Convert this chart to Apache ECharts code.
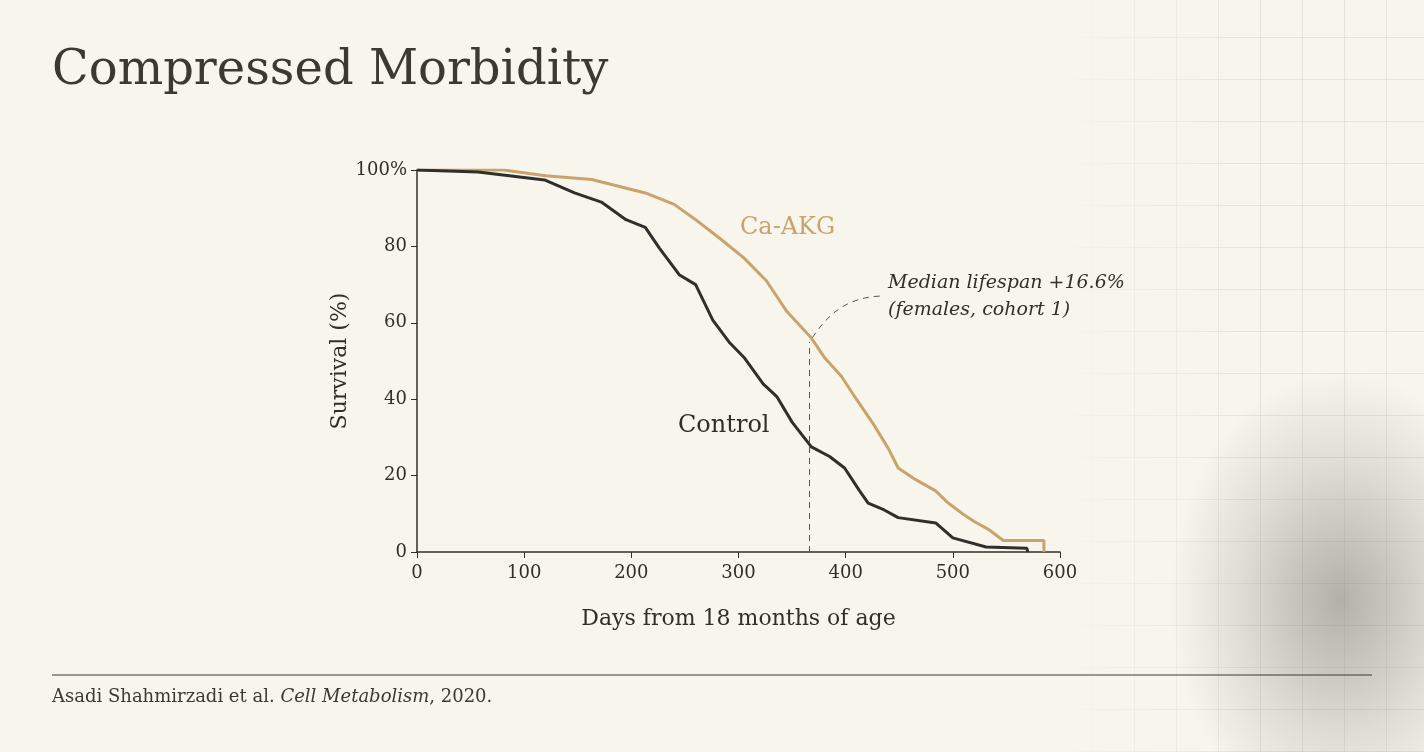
<!DOCTYPE html>
<html><head><meta charset="utf-8">
<script src="https://cdn.jsdelivr.net/npm/echarts@6/dist/echarts.min.js"></script>
<style>
html,body{margin:0;padding:0;background:#f8f5ec;}
#bg{position:absolute;left:0;top:0;width:1424px;height:752px;
background:
 radial-gradient(ellipse 170px 230px at 1340px 600px, rgba(120,120,115,0.55), rgba(150,150,145,0.25) 60%, rgba(248,245,236,0) 100%),
 linear-gradient(90deg, rgba(248,245,236,1) 0, rgba(248,245,236,1) 1050px, rgba(248,245,236,0) 1250px),
 repeating-linear-gradient(0deg, rgba(200,195,185,0.35) 0 1px, transparent 1px 42px),
 repeating-linear-gradient(90deg, rgba(200,195,185,0.35) 0 1px, transparent 1px 42px), #f8f5ec;}
#c{position:absolute;left:0;top:0;width:1424px;height:752px;}
</style></head><body>
<div id="bg"></div><div id="c"></div>
<script>
const controlDays = [0,57,119,147,172,195,213,226,245,260,276,292,305,323,336,350,368,385,399,413,421,436,449,484,500,531,569,570];
const controlSurv = [100,99.5,97.4,94,91.6,87,85,79.6,72.5,70,60.7,54.7,51,44,40.6,34,27.5,25,22,16,12.8,11,9,7.6,3.7,1.3,1,0];
const akgDays = [0,81,120,163,213,240,260,283,305,326,345,368,380,396,410,427,440,449,465,484,495,509,520,534,547,585,585];
const akgSurv = [100,100,98.5,97.5,94,91,87,82,77,71,63,56,51,46,40,33,27,22,19,16,13,10,8,5.8,3,3,0];
const xTicks = [0,100,200,300,400,500,600];
const yTicks = [0,20,40,60,80,100];
const medianDay = 366, medianSurv = 55;

const serif = '"DejaVu Serif", "Liberation Serif", serif';
const dark = '#2f2f2b', gold = '#c8a46c';
const chart = echarts.init(document.getElementById('c'));
const pairs = (a,b)=>a.map((d,i)=>[d,b[i]]);
const opt = {
  animation:false,
  grid:{left:417,right:364,top:170,bottom:200},
  xAxis:{type:'value',min:0,max:600,interval:100,
    axisLine:{show:true,lineStyle:{color:dark,width:1.5}},
    axisTick:{show:true,length:6,lineStyle:{color:dark}},
    splitLine:{show:false},
    axisLabel:{fontFamily:serif,fontSize:18,color:dark,margin:12},
    name:'Days from 18 months of age',nameLocation:'middle',nameGap:56,
    nameTextStyle:{fontFamily:serif,fontSize:22,color:dark}},
  yAxis:{type:'value',min:0,max:100,interval:20,
    axisLine:{show:true,lineStyle:{color:dark,width:1.5}},
    axisTick:{show:true,length:6,lineStyle:{color:dark}},
    splitLine:{show:false},
    axisLabel:{fontFamily:serif,fontSize:18,color:dark,margin:10,formatter:v=>v===100?'100%':v},
    name:'Survival (%)',nameLocation:'middle',nameGap:66,nameRotate:90,
    nameTextStyle:{fontFamily:serif,fontSize:22,color:dark}},
  series:[
    {type:'line',data:pairs(akgDays,akgSurv),showSymbol:false,
     lineStyle:{color:gold,width:3}},
    {type:'line',data:pairs(controlDays,controlSurv),showSymbol:false,
     lineStyle:{color:dark,width:3},
     markLine:{silent:true,symbol:'none',label:{show:false},lineStyle:{color:'#555',type:[6,5],width:1},
       data:[[{coord:[medianDay,0]},{coord:[medianDay,medianSurv]}]]}}
  ]
};
chart.setOption(opt);
const p = chart.convertToPixel({gridIndex:0},[medianDay,medianSurv]);
chart.setOption({graphic:[
  {type:'text',left:52,top:48,style:{text:'Compressed Morbidity',font:'48px '+serif,fill:'#3a3a33'}},
  {type:'text',x:740,y:216,style:{text:'Ca-AKG',font:'24px '+serif,fill:gold}},
  {type:'text',x:678,y:414,style:{text:'Control',font:'24px '+serif,fill:dark}},
  {type:'text',x:888,y:270,style:{text:'Median lifespan +16.6%\n(females, cohort 1)',font:'italic 19px '+serif,fill:dark,lineHeight:27}},
  {type:'bezierCurve',shape:{x1:p[0]+3,y1:p[1]-4,cpx1:p[0]+20,cpy1:p[1]-30,cpx2:p[0]+40,cpy2:p[1]-45,x2:882,y2:296},
   style:{stroke:'#555',lineWidth:1,lineDash:[6,5],fill:null}},
  {type:'line',shape:{x1:52,y1:675,x2:1372,y2:675},style:{stroke:'#3a3a33',lineWidth:1.2}},
  {type:'text',left:52,top:688,style:{rich:{a:{font:'18px '+serif,fill:'#3a3a33'},b:{font:'italic 18px '+serif,fill:'#3a3a33'}},
    text:'{a|Asadi Shahmirzadi et al. }{b|Cell Metabolism}{a|, 2020.}'}}
]});
</script></body></html>
